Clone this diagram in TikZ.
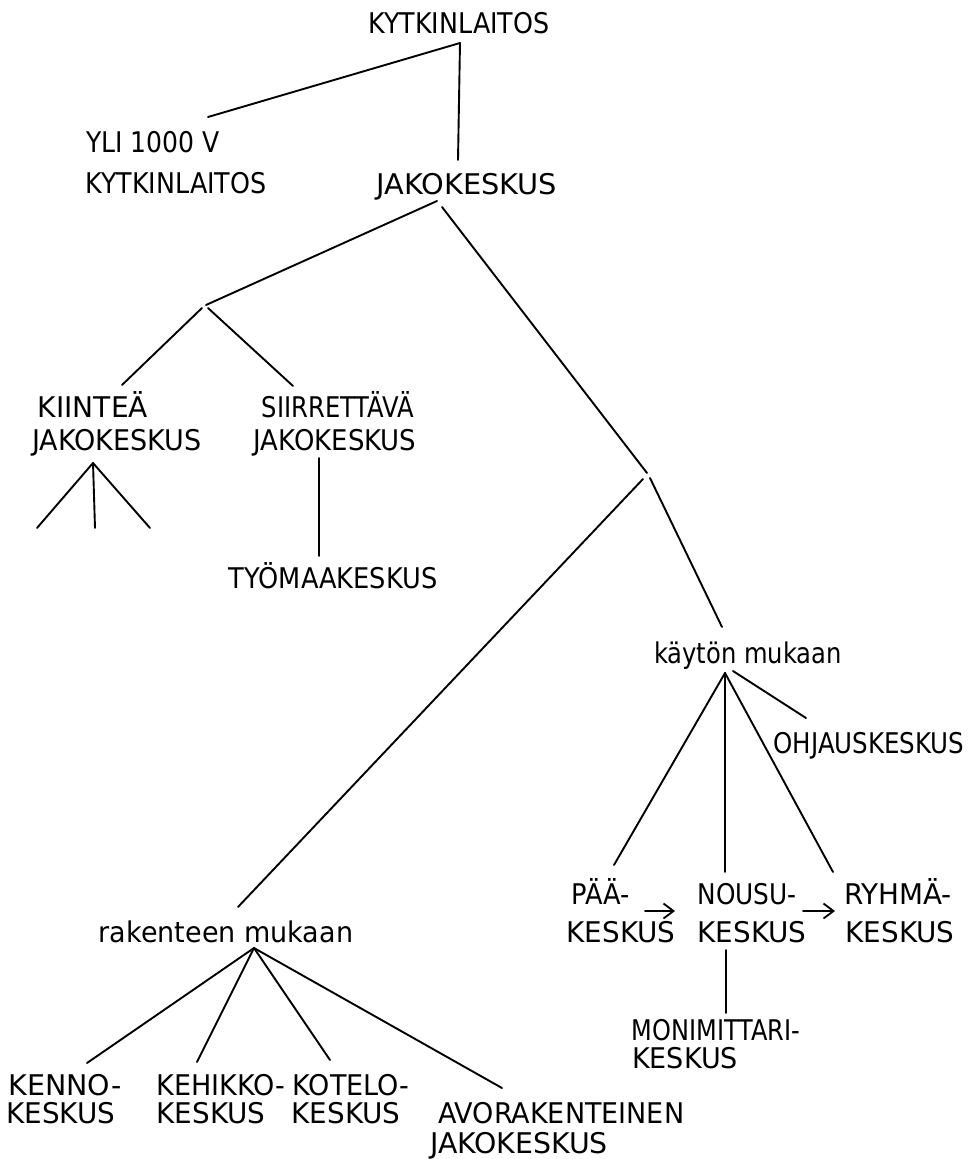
\documentclass[tikz,border=0pt]{standalone}
\usepackage{fontspec}
\usepackage{graphicx}
\setmainfont{DejaVu Sans}
\usetikzlibrary{arrows.meta}
\newcommand\sxb[2]{\scalebox{#1}[1]{#2}}
\begin{document}
\begin{tikzpicture}[x=1pt,y=-1pt,
  lbl/.style={inner sep=0pt, font=\fontsize{28.5}{34}\selectfont, anchor=base},
  ln/.style={line width=1.9pt, line cap=round},
  arr/.style={ln, -{Straight Barb[length=10pt,width=15pt,line width=1.8pt]}}]
\fill[white] (0,0) rectangle (967,1159);
\useasboundingbox (0,0) rectangle (967,1159);
% labels
\node[lbl] (top) at (459,33) {\sxb{0.89}{KYTKINLAITOS}};
\node[lbl] (yli1) at (153,152) {\sxb{0.88}{YLI 1000 V}};
\node[lbl] (yli2) at (176,193) {\sxb{0.89}{KYTKINLAITOS}};
\node[lbl] (jako) at (467,194) {\sxb{1.01}{JAKOKESKUS}};
\node[lbl] (kii1) at (93,417) {\sxb{0.985}{KIINTEÄ}};
\node[lbl] (kii2) at (117,450) {\sxb{0.947}{JAKOKESKUS}};
\node[lbl] (sii1) at (338,417) {\sxb{0.85}{SIIRRETTÄVÄ}};
\node[lbl] (sii2) at (335,450) {\sxb{0.91}{JAKOKESKUS}};
\node[lbl] (tyo) at (333,588) {\sxb{0.9}{TYÖMAAKESKUS}};
\node[lbl] (kay) at (748,663) {\sxb{0.85}{käytön mukaan}};
\node[lbl] (ohj) at (869,753) {\sxb{0.86}{OHJAUSKESKUS}};
\node[lbl] (paa1) at (601,904) {\sxb{0.9}{PÄÄ-}};
\node[lbl] (paa2) at (621,942) {\sxb{0.975}{KESKUS}};
\node[lbl] (nou1) at (747,904) {\sxb{0.87}{NOUSU-}};
\node[lbl] (nou2) at (752,942) {\sxb{0.975}{KESKUS}};
\node[lbl] (ryh1) at (898,904) {\sxb{0.975}{RYHMÄ-}};
\node[lbl] (ryh2) at (900,942) {\sxb{0.975}{KESKUS}};
\node[lbl] (mon1) at (716,1040) {\sxb{0.843}{MONIMITTARI-}};
\node[lbl] (mon2) at (685,1068) {\sxb{0.947}{KESKUS}};
\node[lbl] (rak) at (226,942) {\sxb{0.947}{rakenteen mukaan}};
\node[lbl] (ken1) at (65,1095) {\sxb{1.0}{KENNO-}};
\node[lbl] (ken2) at (61,1123) {\sxb{0.975}{KESKUS}};
\node[lbl] (keh1) at (221,1095) {\sxb{0.947}{KEHIKKO-}};
\node[lbl] (keh2) at (211,1123) {\sxb{0.975}{KESKUS}};
\node[lbl] (kot1) at (351,1095) {\sxb{0.947}{KOTELO-}};
\node[lbl] (kot2) at (346,1123) {\sxb{0.975}{KESKUS}};
\node[lbl,anchor=base west] (avo1) at (438,1123) {\sxb{0.947}{AVORAKENTEINEN}};
\node[lbl,anchor=base west] (avo2) at (430,1153) {\sxb{0.995}{JAKOKESKUS}};
% connector end points
\coordinate (topB) at (460,43);
\coordinate (yliT) at (208,117);
\coordinate (jakoT) at (458,160);
\coordinate (jakoBL) at (437,201);
\coordinate (jakoBR) at (442,207);
\coordinate (j1) at (206,305);
\coordinate (j1L) at (202,308);
\coordinate (j1R) at (208,308);
\coordinate (kiiT) at (122,385);
\coordinate (siiT) at (293,386);
\coordinate (kiiB) at (93,463);
\coordinate (f1) at (37,528);
\coordinate (f2) at (95,528);
\coordinate (f3) at (150,528);
\coordinate (siiB) at (319,458);
\coordinate (tyoT) at (319,556);
\coordinate (j2) at (647,473);
\coordinate (j2L) at (643,479);
\coordinate (j2R) at (650,478);
\coordinate (rakT) at (238,907);
\coordinate (kayT) at (722,627);
\coordinate (kayB) at (725,673);
\coordinate (kayB2) at (733,671);
\coordinate (paaT) at (614,865);
\coordinate (nouT) at (725,872);
\coordinate (ryhT) at (833,872);
\coordinate (ohjT) at (806,718);
\coordinate (nouB) at (726,950);
\coordinate (monT) at (726,1013);
\coordinate (rakB) at (254,948);
\coordinate (kenT) at (87,1063);
\coordinate (kehT) at (197,1062);
\coordinate (kotT) at (330,1060);
\coordinate (avoT) at (502,1088);
\coordinate (a1s) at (645,911);
\coordinate (a1e) at (675,911);
\coordinate (a2s) at (803,911);
\coordinate (a2e) at (835,911);
% connectors
\draw[ln] (topB) -- (yliT);
\draw[ln] (topB) -- (jakoT);
\draw[ln] (jakoBL) -- (j1);
\draw[ln] (jakoBR) -- (j2);
\draw[ln] (j1L) -- (kiiT);
\draw[ln] (j1R) -- (siiT);
\draw[ln] (kiiB) -- (f1);
\draw[ln] (kiiB) -- (f2);
\draw[ln] (kiiB) -- (f3);
\draw[ln] (siiB) -- (tyoT);
\draw[ln] (j2L) -- (rakT);
\draw[ln] (j2R) -- (kayT);
\draw[ln] (kayB) -- (paaT);
\draw[ln] (kayB) -- (nouT);
\draw[ln] (kayB) -- (ryhT);
\draw[ln] (kayB2) -- (ohjT);
\draw[ln] (nouB) -- (monT);
\draw[ln] (rakB) -- (kenT);
\draw[ln] (rakB) -- (kehT);
\draw[ln] (rakB) -- (kotT);
\draw[ln] (rakB) -- (avoT);
\draw[arr] (a1s) -- (a1e);
\draw[arr] (a2s) -- (a2e);
\end{tikzpicture}
\end{document}
